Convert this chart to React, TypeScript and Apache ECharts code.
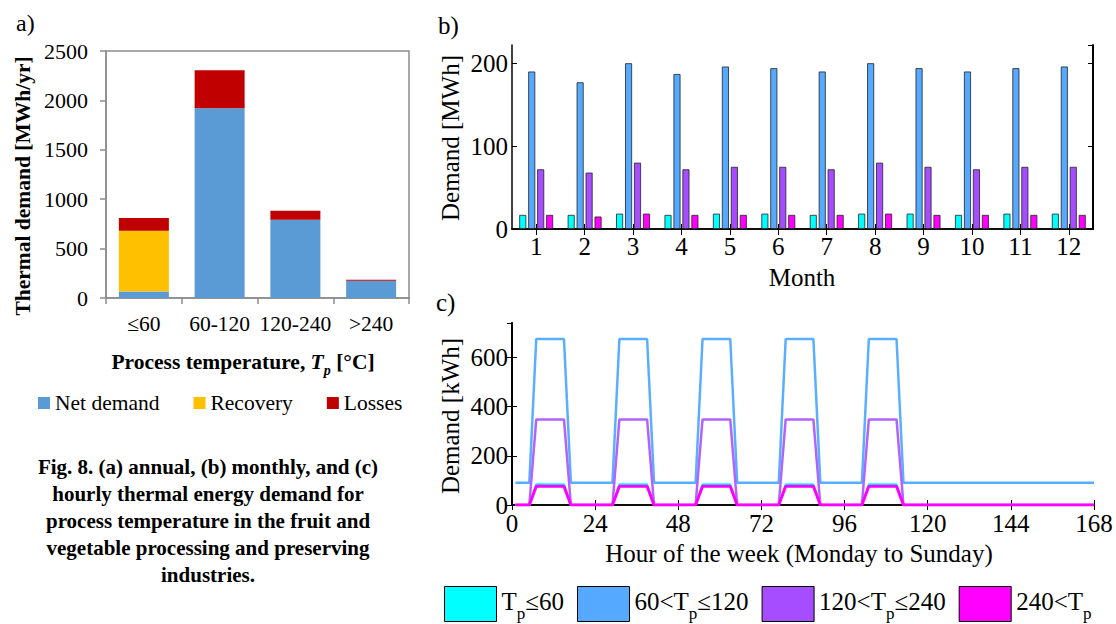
import React, { useEffect, useRef } from 'react';
import * as echarts from 'echarts';

const FONT = 'Liberation Serif, serif';

// ---- Panel a: annual demand by process temperature ----
const tempCategories = ['≤60', '60-120', '120-240', '>240'];
const netDemand = [65, 1920, 792, 175];
const recovery = [615, 0, 0, 0];
const losses = [130, 385, 90, 10];
const annualTicksMax = 2500;

// ---- Panel b: monthly demand [MWh] ----
const months = ['1', '2', '3', '4', '5', '6', '7', '8', '9', '10', '11', '12'];
const monthlyTp60 = [17, 17, 18.5, 17, 18.5, 18.5, 17, 18.5, 18.5, 17, 18.5, 18.5];
const monthly60to120 = [190, 177, 200, 187, 196, 194, 190, 200, 194, 190, 194, 196];
const monthly120to240 = [72, 68, 80, 72, 75, 75, 72, 80, 75, 72, 75, 75];
const monthly240 = [17, 15, 18.5, 17, 17, 17, 17, 18.5, 17, 17, 17, 17];

// ---- Panel c: hourly demand [kWh] over a week ----
const seriesNames = ['Tp≤60', '60<Tp≤120', '120<Tp≤240', '240<Tp'];
const hourlyBaseLoad = [0, 90, 0, 0];
const hourlyPeakLoad = [84, 675, 348, 76];
const weekdayCornerHours = [5, 7, 15, 17]; // ramp up start, peak start, peak end, ramp down end
const workingDays = [0, 1, 2, 3, 4];
const firstHour = 1;
const lastHour = 168;

const barColors = ['#00FFFF', '#55AAFF', '#A64DFF', '#FF00FF'];
const lineColors = ['#00FFFF', '#5AAEFF', '#B262FF', '#FF00FF'];
const lineWidths = [2, 2.5, 2.5, 3];

function buildWeek(base: number, peak: number): number[][] {
  const pts: number[][] = [[firstHour, base]];
  const vals = [base, peak, peak, base];
  workingDays.forEach((d) => {
    weekdayCornerHours.forEach((h, i) => pts.push([d * 24 + h, vals[i]]));
  });
  pts.push([lastHour, base]);
  return pts;
}

const legendFmt: Record<string, string> = {
  'Tp≤60': 'T{s|p}≤60',
  '60<Tp≤120': '60<T{s|p}≤120',
  '120<Tp≤240': '120<T{s|p}≤240',
  '240<Tp': '240<T{s|p}',
};

const plain = (v: number) => String(v);

export default function App() {
  const ref = useRef<HTMLDivElement>(null);
  useEffect(() => {
    document.body.style.margin = '0';
    const chart = echarts.init(ref.current!, null, { renderer: 'svg' });
    const black = '#000';
    const grey = '#8c8c8c';

    const bMonthly = [monthlyTp60, monthly60to120, monthly120to240, monthly240];

    const option: any = {
      animation: false,
      backgroundColor: '#fff',
      textStyle: { fontFamily: FONT },
      grid: [
        { left: 106, top: 51, width: 303, height: 247, show: true, borderColor: grey, borderWidth: 1.5, backgroundColor: 'transparent' },
        { left: 512, top: 45, width: 581, height: 184 },
        { left: 512, top: 323, width: 582, height: 182 },
      ],
      xAxis: [
        {
          type: 'category', gridIndex: 0, data: tempCategories,
          axisLine: { lineStyle: { color: grey, width: 1.5 } },
          axisTick: { show: true, length: 6, lineStyle: { color: grey, width: 1.5 } },
          axisLabel: { fontFamily: FONT, fontSize: 21.5, color: black, margin: 15, interval: 0 },
        },
        {
          type: 'category', gridIndex: 1, data: months, position: 'bottom',
          axisLine: { lineStyle: { color: black, width: 1.5 } },
          axisTick: { show: true, inside: true, alignWithLabel: true, length: 5, lineStyle: { color: black } },
          axisLabel: { fontFamily: FONT, fontSize: 25, color: black, margin: 5, interval: 0 },
        },
        {
          type: 'category', gridIndex: 1, data: months, position: 'top',
          axisLine: { lineStyle: { color: black, width: 1.5 } },
          axisTick: { show: true, inside: true, alignWithLabel: true, length: 6, lineStyle: { color: black } },
          axisLabel: { show: false },
        },
        {
          type: 'value', gridIndex: 2, min: 0, max: 168, interval: 24, position: 'bottom',
          axisLine: { lineStyle: { color: black, width: 1.5 } },
          axisTick: { show: true, inside: true, length: 5, lineStyle: { color: black } },
          axisLabel: { fontFamily: FONT, fontSize: 25, color: black, margin: 6, formatter: plain },
          splitLine: { show: false },
        },
        {
          type: 'value', gridIndex: 2, min: 0, max: 168, interval: 24, position: 'top',
          axisLine: { lineStyle: { color: black, width: 1.5 } },
          axisTick: { show: true, inside: true, length: 5, lineStyle: { color: black } },
          axisLabel: { show: false },
          splitLine: { show: false },
        },
      ],
      yAxis: [
        {
          type: 'value', gridIndex: 0, min: 0, max: annualTicksMax, interval: 500,
          axisLine: { show: true, lineStyle: { color: grey, width: 1.5 } },
          axisTick: { show: true, length: 6, lineStyle: { color: grey, width: 1.5 } },
          axisLabel: { fontFamily: FONT, fontSize: 22, color: black, margin: 18, formatter: plain },
          splitLine: { show: false },
        },
        {
          type: 'value', gridIndex: 1, min: 0, max: 222, interval: 100, position: 'left',
          axisLine: { show: true, lineStyle: { color: black, width: 1.5 } },
          axisTick: { show: true, inside: true, length: 5, lineStyle: { color: black } },
          axisLabel: { fontFamily: FONT, fontSize: 25, color: black, margin: 4, showMaxLabel: false,
            formatter: (v: number) => (v % 100 === 0 ? String(v) : '') },
          splitLine: { show: false },
        },
        {
          type: 'value', gridIndex: 1, min: 0, max: 222, interval: 100, position: 'right',
          axisLine: { show: true, lineStyle: { color: black, width: 2 } },
          axisTick: { show: true, inside: true, length: 5, lineStyle: { color: black } },
          axisLabel: { show: false },
          splitLine: { show: false },
        },
        {
          type: 'value', gridIndex: 2, min: 0, max: 740, interval: 200, position: 'left',
          axisLine: { show: true, lineStyle: { color: black, width: 1.5 } },
          axisTick: { show: true, inside: true, length: 5, lineStyle: { color: black } },
          axisLabel: { fontFamily: FONT, fontSize: 25, color: black, margin: 4, showMaxLabel: false,
            formatter: (v: number) => (v % 200 === 0 ? String(v) : '') },
          splitLine: { show: false },
        },
        {
          type: 'value', gridIndex: 2, min: 0, max: 740, interval: 200, position: 'right',
          axisLine: { show: true, lineStyle: { color: black, width: 2 } },
          axisTick: { show: true, inside: true, length: 5, lineStyle: { color: black } },
          axisLabel: { show: false },
          splitLine: { show: false },
        },
      ],
      legend: [
        {
          data: ['Net demand', 'Recovery', 'Losses'],
          left: 38, top: 392, padding: 0, itemGap: 34, itemWidth: 12, itemHeight: 12, icon: 'rect',
          textStyle: { fontFamily: FONT, fontSize: 21.5, color: black },
        },
        {
          data: seriesNames,
          left: 444, top: 586, padding: 0, itemGap: 13, itemWidth: 52, itemHeight: 35, icon: 'rect',
          itemStyle: { borderColor: '#000', borderWidth: 1 },
          formatter: (name: string) => legendFmt[name] || name,
          textStyle: {
            fontFamily: FONT, fontSize: 25, color: black, lineHeight: 30, padding: [0, 0, 6, 0],
            rich: {
              s: { fontFamily: FONT, fontSize: 17, color: black, lineHeight: 1, verticalAlign: 'top', padding: [19, 0, 0, 0] },
            },
          },
        },
      ],
      series: [
        // panel b bars (defined first so legend takes bar style)
        ...seriesNames.map((name, i) => ({
          name, type: 'bar', xAxisIndex: 1, yAxisIndex: 1, data: bMonthly[i],
          barWidth: 7, barGap: '28%',
          itemStyle: { color: barColors[i], borderColor: '#222', borderWidth: 0.8 },
        })),
        // panel a stacked bars
        {
          name: 'Net demand', type: 'bar', stack: 'a', xAxisIndex: 0, yAxisIndex: 0,
          data: netDemand, barWidth: 50, itemStyle: { color: '#5B9BD5' },
        },
        {
          name: 'Recovery', type: 'bar', stack: 'a', xAxisIndex: 0, yAxisIndex: 0,
          data: recovery, barWidth: 50, itemStyle: { color: '#FFC000' },
        },
        {
          name: 'Losses', type: 'bar', stack: 'a', xAxisIndex: 0, yAxisIndex: 0,
          data: losses, barWidth: 50, itemStyle: { color: '#C00000' },
        },
        // panel c lines: draw order blue, purple, cyan, magenta
        ...[1, 2, 0, 3].map((i) => ({
          name: seriesNames[i], type: 'line', xAxisIndex: 3, yAxisIndex: 3,
          data: buildWeek(hourlyBaseLoad[i], hourlyPeakLoad[i]),
          symbol: 'none', showSymbol: false,
          lineStyle: { color: lineColors[i], width: lineWidths[i] },
          itemStyle: { color: lineColors[i] },
        })),
      ],
      graphic: [
        { type: 'text', x: 16, y: 23, style: { text: 'a)', fontFamily: FONT, fontSize: 24, fill: black, align: 'left', verticalAlign: 'middle' } },
        { type: 'text', x: 438, y: 25, style: { text: 'b)', fontFamily: FONT, fontSize: 25, fill: black, align: 'left', verticalAlign: 'middle' } },
        { type: 'text', x: 436, y: 302, style: { text: 'c)', fontFamily: FONT, fontSize: 25, fill: black, align: 'left', verticalAlign: 'middle' } },
        {
          type: 'text', x: 22.5, y: 186, rotation: Math.PI / 2,
          style: { text: 'Thermal demand [MWh/yr]', fontFamily: FONT, fontSize: 21.5, fontWeight: 'bold', fill: black, align: 'center', verticalAlign: 'middle' },
        },
        {
          type: 'text', x: 243, y: 362,
          style: {
            text: '{b|Process temperature, }{bi|T}{bis|p}{b| [°C]}',
            align: 'center', verticalAlign: 'middle',
            rich: {
              b: { fontFamily: FONT, fontSize: 21.5, fontWeight: 'bold', fill: black, lineHeight: 30 },
              bi: { fontFamily: FONT, fontSize: 21.5, fontWeight: 'bold', fontStyle: 'italic', fill: black, lineHeight: 30 },
              bis: { fontFamily: FONT, fontSize: 14, fontWeight: 'bold', fontStyle: 'italic', fill: black, lineHeight: 14, verticalAlign: 'bottom' },
            },
          },
        },
        {
          type: 'text', x: 450, y: 138, rotation: Math.PI / 2,
          style: { text: 'Demand [MWh]', fontFamily: FONT, fontSize: 25, fill: black, align: 'center', verticalAlign: 'middle' },
        },
        {
          type: 'text', x: 802, y: 277,
          style: { text: 'Month', fontFamily: FONT, fontSize: 25, fill: black, align: 'center', verticalAlign: 'middle' },
        },
        {
          type: 'text', x: 450, y: 416, rotation: Math.PI / 2,
          style: { text: 'Demand [kWh]', fontFamily: FONT, fontSize: 25, fill: black, align: 'center', verticalAlign: 'middle' },
        },
        {
          type: 'text', x: 799, y: 553,
          style: { text: 'Hour of the week (Monday to Sunday)', fontFamily: FONT, fontSize: 25, fill: black, align: 'center', verticalAlign: 'middle' },
        },
        {
          type: 'text', x: 208, y: 453.5,
          style: {
            text: 'Fig. 8. (a) annual, (b) monthly, and (c)\nhourly thermal energy demand for\nprocess temperature in the fruit and\nvegetable processing and preserving\nindustries.',
            fontFamily: FONT, fontSize: 21, fontWeight: 'bold', fill: black, lineHeight: 27,
            align: 'center', verticalAlign: 'top',
          },
        },
      ],
    };
    chart.setOption(option);
    return () => chart.dispose();
  }, []);
  return <div ref={ref} style={{ width: 1116, height: 624 }} />;
}
